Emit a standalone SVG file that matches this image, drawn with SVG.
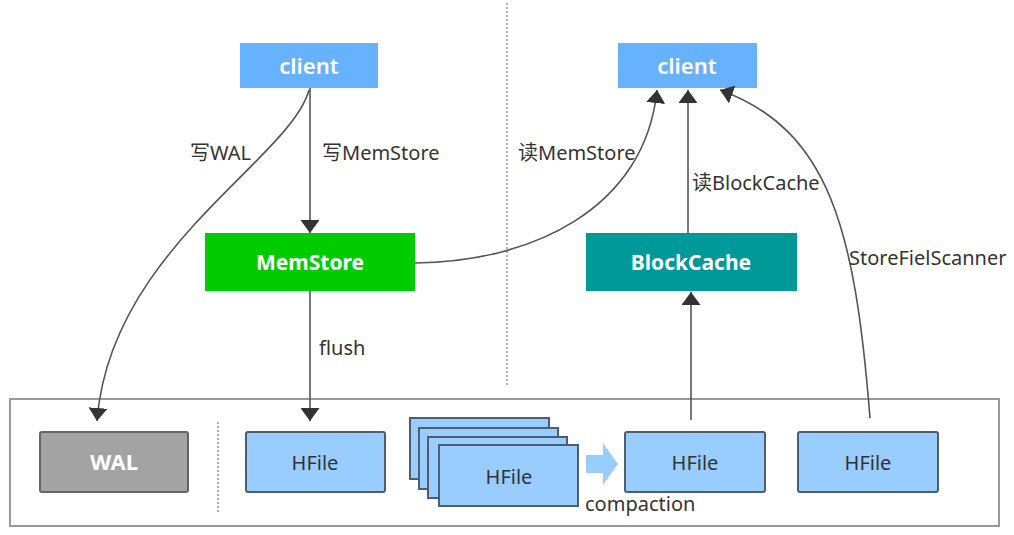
<svg xmlns="http://www.w3.org/2000/svg" width="1014" height="535" viewBox="0 0 1014 535">
<style>
.lbl{font-family:"Noto Sans","Noto Sans CJK SC",sans-serif;font-size:20px;fill:#333}
.nt{font-family:"Noto Sans","Noto Sans CJK SC",sans-serif;font-size:21px;fill:#fff;text-anchor:middle;font-weight:bold}
.ct{font-family:"Noto Sans",sans-serif;font-size:22px;fill:#fff;text-anchor:middle;font-weight:600}
.ht{font-family:"Noto Sans",sans-serif;font-size:20px;fill:#333;text-anchor:middle}
.hf{fill:#99ccff;stroke:#4d5e70;stroke-width:2}
.cn{fill:none;stroke:#555;stroke-width:1.6}
</style>
<defs>
<marker id="ah" viewBox="0 0 13 19" refX="13" refY="9.5" markerWidth="13" markerHeight="19" markerUnits="userSpaceOnUse" orient="auto">
<path d="M0,0 L13,9.5 L0,19 Z" fill="#333"/>
</marker>
</defs>
<rect width="1014" height="535" fill="#fff"/>
<line x1="507" y1="3" x2="507" y2="385" stroke="#999" stroke-width="1.5" stroke-dasharray="2,2"/>
<rect x="10" y="399" width="989" height="127" fill="none" stroke="#999" stroke-width="2"/>
<line x1="218" y1="422" x2="218" y2="512" stroke="#999" stroke-width="1.5" stroke-dasharray="2,2"/>

<g id="client-left"><rect x="240" y="43" width="138" height="45" fill="#66b2ff"/><text class="ct" x="309" y="74">client</text></g>
<g id="client-right"><rect x="618" y="43" width="139" height="45" fill="#66b2ff"/><text class="ct" x="687" y="74">client</text></g>
<g id="memstore"><rect x="205" y="233" width="210" height="58" fill="#00cc00"/><text class="nt" x="310" y="270">MemStore</text></g>
<g id="blockcache"><rect x="586" y="233" width="211" height="58" fill="#009999"/><text class="nt" x="691" y="270">BlockCache</text></g>
<g id="wal"><rect x="40" y="432" width="148" height="60" rx="2" fill="#a3a3a3" stroke="#666" stroke-width="2"/><text class="nt" x="114" y="470" style="font-size:22px">WAL</text></g>
<g id="hfile1"><rect class="hf" x="246" y="432" width="139" height="60" rx="2"/><text class="ht" x="315" y="470">HFile</text></g>
<g id="hfile-stack">
<rect class="hf" x="410" y="418" width="139" height="61"/>
<rect class="hf" x="419" y="428" width="139" height="61"/>
<rect class="hf" x="428" y="437" width="139" height="61"/>
<rect class="hf" x="439" y="445" width="139" height="61"/>
<text class="ht" x="509" y="484">HFile</text>
</g>
<g id="compaction-arrow"><path d="M586,455 L603,455 L603,443 L618,464 L603,485 L603,473 L586,473 Z" fill="#99ccff"/><text class="lbl" x="585" y="511">compaction</text></g>
<g id="hfile3"><rect class="hf" x="625" y="432" width="140" height="60" rx="2"/><text class="ht" x="695" y="470">HFile</text></g>
<g id="hfile4"><rect class="hf" x="798" y="432" width="140" height="60" rx="2"/><text class="ht" x="868" y="470">HFile</text></g>

<g id="connectors">
<path class="cn" d="M310,88 L310,233" marker-end="url(#ah)"/>
<path class="cn" d="M309,90 C290,160 110,250 97,421" marker-end="url(#ah)"/>
<path class="cn" d="M310,291 L310,421" marker-end="url(#ah)"/>
<path class="cn" d="M415,263 C530,262 645,210 657,90" marker-end="url(#ah)"/>
<path class="cn" d="M688,233 L688,90" marker-end="url(#ah)"/>
<path class="cn" d="M691,420 L691,292" marker-end="url(#ah)"/>
<path class="cn" d="M870,418 C855,230 830,130 720,90" marker-end="url(#ah)"/>
<text class="lbl" x="190" y="160">写WAL</text>
<text class="lbl" x="322" y="160">写MemStore</text>
<text class="lbl" x="518" y="160">读MemStore</text>
<text class="lbl" x="692" y="190">读BlockCache</text>
<text class="lbl" x="849" y="265">StoreFielScanner</text>
<text class="lbl" x="319" y="355">flush</text>
</g>
</svg>
